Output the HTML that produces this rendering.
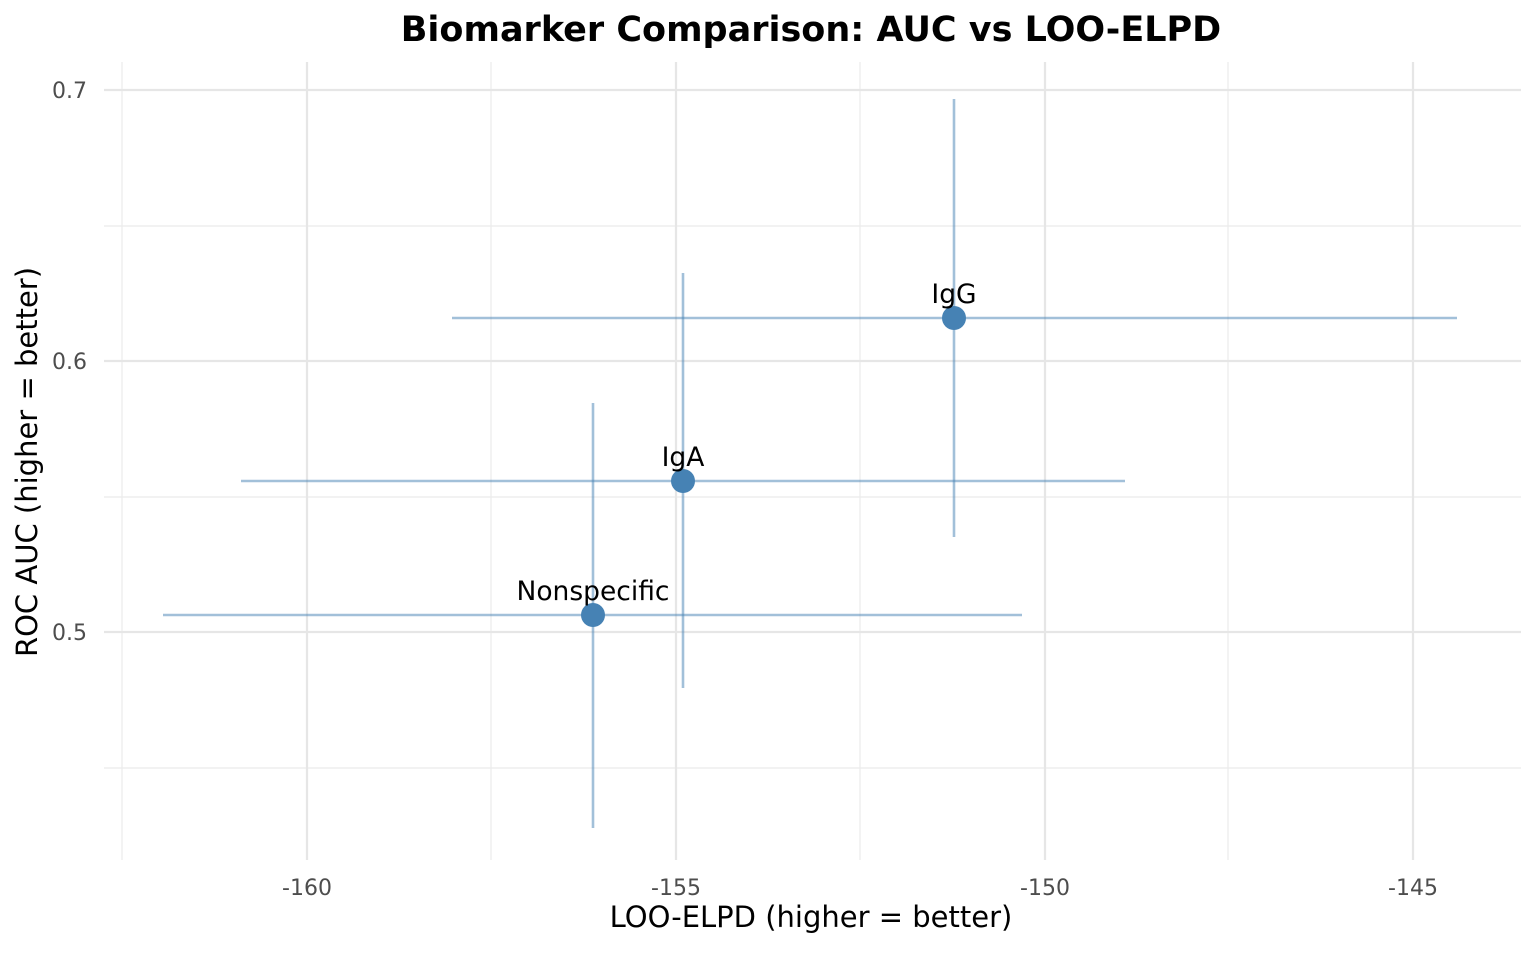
<!DOCTYPE html>
<html><head><meta charset="utf-8"><style>body{margin:0;background:#fff}</style></head><body>
<svg width="1536" height="949" xmlns="http://www.w3.org/2000/svg" font-family="DejaVu Sans, Liberation Sans, sans-serif">
<g stroke="#ebebeb" stroke-width="1.2">
<line x1="122" y1="62" x2="122" y2="860"/><line x1="491" y1="62" x2="491" y2="860"/><line x1="860" y1="62" x2="860" y2="860"/><line x1="1228" y1="62" x2="1228" y2="860"/>
<line x1="104" y1="226" x2="1521" y2="226"/><line x1="104" y1="497" x2="1521" y2="497"/><line x1="104" y1="768" x2="1521" y2="768"/>
</g>
<g stroke="#e6e6e6" stroke-width="2.2">
<line x1="307" y1="62" x2="307" y2="860"/><line x1="676" y1="62" x2="676" y2="860"/><line x1="1045" y1="62" x2="1045" y2="860"/><line x1="1413" y1="62" x2="1413" y2="860"/>
<line x1="104" y1="90" x2="1521" y2="90"/><line x1="104" y1="361" x2="1521" y2="361"/><line x1="104" y1="632" x2="1521" y2="632"/>
</g>
<g stroke="#4682B4" stroke-opacity="0.5" stroke-width="2.6">
<line x1="452" y1="318" x2="1457" y2="318"/><line x1="954" y1="99" x2="954" y2="537"/>
<line x1="241" y1="481" x2="1125" y2="481"/><line x1="683" y1="273" x2="683" y2="688"/>
<line x1="163" y1="615" x2="1022" y2="615"/><line x1="593" y1="403" x2="593" y2="828"/>
</g>
<g fill="#4682B4"><circle cx="954" cy="318" r="12"/><circle cx="683" cy="481" r="12"/><circle cx="593" cy="615" r="12"/></g>
<g font-size="26.5" text-anchor="middle" fill="#000">
<text x="954" y="303">IgG</text><text x="683" y="466">IgA</text><text x="593" y="600">Nonspecific</text>
</g>
<g font-size="22" fill="#4d4d4d" text-anchor="middle">
<text x="307" y="895">-160</text><text x="676" y="895">-155</text><text x="1045" y="895">-150</text><text x="1413" y="895">-145</text>
</g>
<g font-size="22" fill="#4d4d4d" text-anchor="end">
<text x="87" y="98">0.7</text><text x="87" y="369">0.6</text><text x="87" y="640">0.5</text>
</g>
<text x="811" y="927" font-size="29" text-anchor="middle">LOO-ELPD (higher = better)</text>
<text transform="translate(37,462) rotate(-90)" font-size="29" text-anchor="middle">ROC AUC (higher = better)</text>
<text x="811" y="41" font-size="35" font-weight="bold" text-anchor="middle">Biomarker Comparison: AUC vs LOO-ELPD</text>
</svg>
</body></html>
